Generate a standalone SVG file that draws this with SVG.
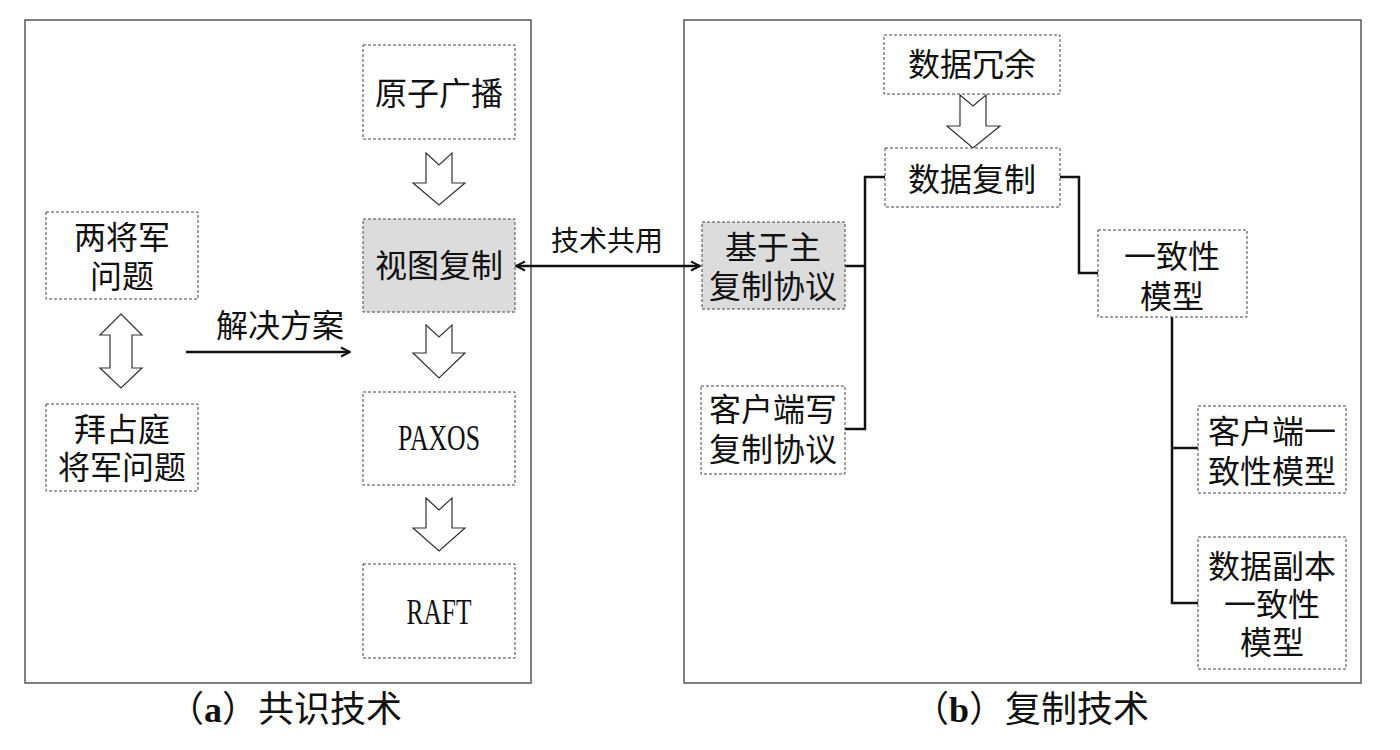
<svg xmlns="http://www.w3.org/2000/svg" width="1400" height="750" viewBox="0 0 1400 750">
<style>
.panel{fill:#fff;stroke:#555;stroke-width:1.5}
.box{fill:#fff;stroke:#444;stroke-width:1;stroke-dasharray:3 2}
.gray{fill:#dcdcdc}
.t{font-family:"Liberation Serif","Noto Sans CJK SC",serif;font-size:32px;fill:#111;text-anchor:middle;dominant-baseline:central}
.lat{font-size:36px}
.lbl{font-family:"Liberation Serif","Noto Sans CJK SC",serif;fill:#111;text-anchor:middle;dominant-baseline:central}
.hollow{fill:#fff;stroke:#333;stroke-width:1.2}
.conn{fill:none;stroke:#111;stroke-width:2.5}
.arr{fill:none;stroke:#111;stroke-width:2.4}
</style>
<defs>
<marker id="ah" viewBox="0 0 12 12" refX="11" refY="6" markerWidth="12" markerHeight="12" markerUnits="userSpaceOnUse" orient="auto-start-reverse">
<path d="M2,1.5 L11,6 L2,10.5" fill="none" stroke="#111" stroke-width="2"/>
</marker>
</defs>
<rect class="panel" x="25" y="20" width="506" height="663"/>
<rect class="panel" x="684" y="20" width="677" height="663"/>

<g id="connectors">
<polygon class="hollow" points="426,153 439,165 452,153 452,183 465,183 439,205 413,183 426,183"/>
<polygon class="hollow" points="426,325 439,337 452,325 452,353 465,353 439,378 413,353 426,353"/>
<polygon class="hollow" points="426,498 439,510 452,498 452,528 465,528 439,551 413,528 426,528"/>
<polygon class="hollow" points="121,314 142,335 132,335 132,368 142,368 121,388 100,368 110,368 110,335 100,335"/>
<polygon class="hollow" points="960,95 973,106 986,95 986,126 1000,126 973,148 947,126 960,126"/>
<line class="arr" x1="186" y1="352" x2="350" y2="352" marker-end="url(#ah)"/>
<line class="arr" x1="516" y1="266" x2="700" y2="266" marker-start="url(#ah)" marker-end="url(#ah)"/>
<polyline class="conn" points="885,177 865,177 865,429 845,429"/>
<line class="conn" x1="845" y1="266" x2="865" y2="266"/>
<polyline class="conn" points="1060,177 1079,177 1079,273 1098,273"/>
<polyline class="conn" points="1172,317 1172,603 1198,603"/>
<line class="conn" x1="1172" y1="448" x2="1198" y2="448"/>
<text class="lbl" x="280" y="326" font-size="32">解决方案</text>
<text class="lbl" x="607" y="241" font-size="28">技术共用</text>
</g>

<g id="n-atomic"><rect class="box" x="363" y="45" width="152" height="94"/><text class="t" x="439" y="94">原子广播</text></g>
<g id="n-view"><rect class="box gray" x="363" y="219" width="152" height="93"/><text class="t" x="439" y="266">视图复制</text></g>
<g id="n-paxos"><rect class="box" x="363" y="392" width="152" height="93"/><text class="t lat" x="439" y="438" textLength="82" lengthAdjust="spacingAndGlyphs">PAXOS</text></g>
<g id="n-raft"><rect class="box" x="363" y="564" width="152" height="94"/><text class="t lat" x="439" y="612" textLength="65" lengthAdjust="spacingAndGlyphs">RAFT</text></g>
<g id="n-two"><rect class="box" x="46" y="212" width="152" height="87"/><text class="t" x="122" y="238">两将军</text><text class="t" x="122" y="277">问题</text></g>
<g id="n-byz"><rect class="box" x="46" y="404" width="152" height="87"/><text class="t" x="122" y="430">拜占庭</text><text class="t" x="122" y="468">将军问题</text></g>

<g id="n-redund"><rect class="box" x="884" y="35" width="176" height="59"/><text class="t" x="972" y="65">数据冗余</text></g>
<g id="n-repl"><rect class="box" x="885" y="148" width="175" height="59"/><text class="t" x="972" y="180">数据复制</text></g>
<g id="n-primary"><rect class="box gray" x="702" y="222" width="143" height="87"/><text class="t" x="773" y="248">基于主</text><text class="t" x="773" y="287">复制协议</text></g>
<g id="n-client"><rect class="box" x="701" y="386" width="144" height="88"/><text class="t" x="773" y="410">客户端写</text><text class="t" x="773" y="450">复制协议</text></g>
<g id="n-cons"><rect class="box" x="1098" y="230" width="149" height="87"/><text class="t" x="1172" y="257">一致性</text><text class="t" x="1172" y="297">模型</text></g>
<g id="n-ccons"><rect class="box" x="1198" y="406" width="148" height="87"/><text class="t" x="1272" y="432">客户端一</text><text class="t" x="1272" y="472">致性模型</text></g>
<g id="n-dcons"><rect class="box" x="1198" y="537" width="148" height="132"/><text class="t" x="1272" y="567">数据副本</text><text class="t" x="1272" y="605">一致性</text><text class="t" x="1272" y="643">模型</text></g>

<text class="lbl" x="285" y="710" font-size="36">（<tspan font-weight="bold">a</tspan>）共识技术</text>
<text class="lbl" x="1031" y="710" font-size="36">（<tspan font-weight="bold">b</tspan>）复制技术</text>
</svg>
